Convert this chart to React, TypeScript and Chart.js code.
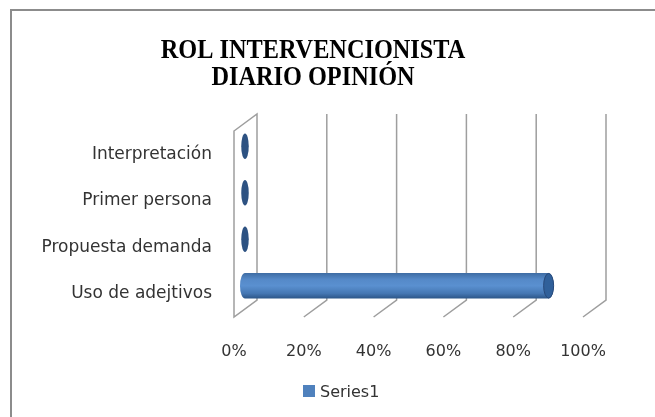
import React, { useEffect, useRef } from "react";
import { Chart, registerables } from "chart.js";

Chart.register(...registerables);

const titleLines = ["ROL INTERVENCIONISTA", "DIARIO OPINIÓN"];
const categories = ["Interpretación", "Primer persona", "Propuesta demanda", "Uso de adejtivos"];
const seriesName = "Series1";
const seriesValues = [0, 0, 0, 87];
const xTicks = [0, 20, 40, 60, 80, 100];

const FONT = "'DejaVu Sans', sans-serif";
const DX = 23;
const DY = -17;

const decorPlugin = {
  id: "decor",
  beforeDraw(chart: any) {
    const ctx = chart.ctx;
    ctx.save();
    ctx.fillStyle = "#ffffff";
    ctx.fillRect(0, 0, chart.width, chart.height);
    // frame
    ctx.strokeStyle = "#8c8c8c";
    ctx.lineWidth = 2;
    ctx.strokeRect(11, 10, 800, 600);
    // title
    ctx.fillStyle = "#000000";
    ctx.font = "bold 27px 'Liberation Serif', serif";
    ctx.textAlign = "center";
    ctx.textBaseline = "alphabetic";
    const cx = 313;
    const sx = 0.9;
    ctx.save();
    ctx.scale(sx, 1);
    ctx.fillText(titleLines[0], cx / sx, 58);
    ctx.fillText(titleLines[1], cx / sx, 85);
    ctx.restore();
    // legend
    ctx.fillStyle = "#4F81BD";
    ctx.fillRect(303, 385, 12, 12);
    ctx.fillStyle = "#333333";
    ctx.font = "16px " + FONT;
    ctx.textAlign = "left";
    ctx.fillText(seriesName, 320, 397);
    ctx.restore();
  },
  beforeDatasetsDraw(chart: any) {
    const ctx = chart.ctx;
    const xs = chart.scales.x;
    const { top, bottom } = chart.chartArea;
    ctx.save();
    ctx.lineCap = "butt";
    // left wall
    const x0 = xs.getPixelForValue(0);
    ctx.strokeStyle = "#9e9e9e";
    ctx.lineWidth = 1.5;
    ctx.beginPath();
    ctx.moveTo(x0, top);
    ctx.lineTo(x0 + DX, top + DY);
    ctx.lineTo(x0 + DX, bottom + DY);
    ctx.lineTo(x0, bottom);
    ctx.closePath();
    ctx.stroke();
    // back grid + floor diagonals
    xTicks.forEach((v) => {
      if (v === 0) return;
      const x = xs.getPixelForValue(v);
      ctx.beginPath();
      ctx.moveTo(x + DX, top + DY);
      ctx.lineTo(x + DX, bottom + DY);
      ctx.lineTo(x, bottom);
      ctx.stroke();
    });
    ctx.restore();
  },
  afterDatasetsDraw(chart: any) {
    const ctx = chart.ctx;
    const meta = chart.getDatasetMeta(0);
    const ox = 11;
    const oy = -8;
    ctx.save();
    meta.data.forEach((bar: any) => {
      const p = bar.getProps(["x", "y", "base", "height"], true);
      const h = p.height;
      const yc = p.y + oy;
      const xb = p.base + ox;
      const xe = p.x + ox;
      const rx = 5;
      const ry = h / 2;
      if (xe - xb < 1) {
        ctx.fillStyle = "#2d5282";
        ctx.beginPath();
        ctx.ellipse(xb, yc, rx * 0.75, ry, 0, 0, Math.PI * 2);
        ctx.fill();
        return;
      }
      const g = ctx.createLinearGradient(0, yc - ry, 0, yc + ry);
      g.addColorStop(0, "#3e6ca3");
      g.addColorStop(0.25, "#5589c8");
      g.addColorStop(0.5, "#5a90d0");
      g.addColorStop(0.8, "#4577b3");
      g.addColorStop(1, "#2c5587");
      ctx.fillStyle = g;
      ctx.beginPath();
      ctx.ellipse(xb, yc, rx, ry, 0, Math.PI / 2, (Math.PI * 3) / 2);
      ctx.lineTo(xe, yc - ry);
      ctx.ellipse(xe, yc, rx, ry, 0, -Math.PI / 2, Math.PI / 2);
      ctx.closePath();
      ctx.fill();
      // right cap
      ctx.fillStyle = "#30609a";
      ctx.strokeStyle = "#27497a";
      ctx.lineWidth = 1;
      ctx.beginPath();
      ctx.ellipse(xe, yc, rx, ry - 0.5, 0, 0, Math.PI * 2);
      ctx.fill();
      ctx.stroke();
    });
    ctx.restore();
  },
};

export default function App() {
  const ref = useRef<HTMLCanvasElement | null>(null);
  useEffect(() => {
    document.body.style.margin = "0";
    const canvas = ref.current;
    if (!canvas) return;
    const chart = new Chart(canvas, {
      type: "bar",
      data: {
        labels: categories,
        datasets: [
          {
            label: seriesName,
            data: seriesValues,
            backgroundColor: "rgba(0,0,0,0)",
            borderWidth: 0,
            barPercentage: 0.55,
            categoryPercentage: 1,
          },
        ],
      },
      options: {
        animation: false,
        responsive: false,
        indexAxis: "y",
        layout: { padding: { top: 131, right: 72, left: 0, bottom: 0 } },
        plugins: {
          legend: { display: false },
          title: { display: false },
          tooltip: { enabled: false },
        },
        scales: {
          x: {
            min: 0,
            max: 100,
            grid: { display: false },
            border: { display: false },
            afterFit: (s: any) => {
              s.height = 100;
            },
            afterBuildTicks: (s: any) => {
              s.ticks = xTicks.map((v) => ({ value: v }));
            },
            ticks: {
              padding: 17,
              color: "#333333",
              font: { family: FONT, size: 16 },
              maxRotation: 0,
              callback: (v: any) => v + "%",
            },
          },
          y: {
            grid: { display: false },
            border: { display: false },
            afterFit: (s: any) => {
              s.width = 234;
            },
            ticks: {
              padding: 14,
              color: "#333333",
              font: { family: FONT, size: 17 },
            },
          },
        },
      },
      plugins: [decorPlugin],
    });
    return () => chart.destroy();
  }, []);
  return (
    <div style={{ position: "absolute", left: 0, top: 0, width: 655, height: 417 }}>
      <canvas ref={ref} width={655} height={417} />
    </div>
  );
}
